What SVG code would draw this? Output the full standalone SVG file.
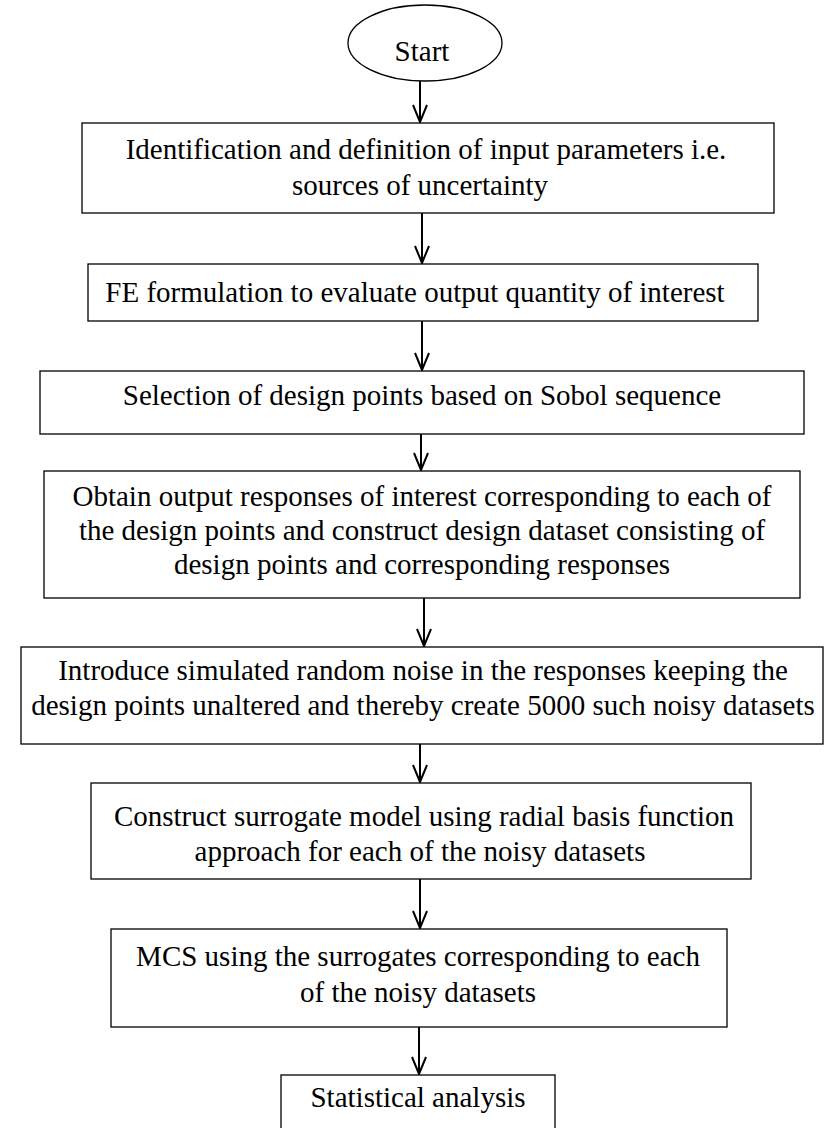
<svg xmlns="http://www.w3.org/2000/svg" width="824" height="1128" viewBox="0 0 824 1128">
<style>
.box{fill:#fff;stroke:#000;stroke-width:1.3}
.t{font-family:"Liberation Serif","Times New Roman",serif;font-size:29px;fill:#000;text-anchor:middle}
.c{stroke:#000;stroke-width:2;fill:none}
</style>
<defs>
<marker id="ah" markerWidth="20" markerHeight="16" refX="18" refY="8" orient="auto" markerUnits="userSpaceOnUse" viewBox="0 0 20 16">
<polyline points="1,1 18,8 1,15" fill="none" stroke="#000" stroke-width="2"/>
</marker>
</defs>
<rect width="824" height="1128" fill="#fff"/>
<g id="connectors">
<line class="c" x1="420" y1="81" x2="420" y2="122" marker-end="url(#ah)"/>
<line class="c" x1="422" y1="213" x2="422" y2="263" marker-end="url(#ah)"/>
<line class="c" x1="422" y1="321" x2="422" y2="370" marker-end="url(#ah)"/>
<line class="c" x1="421" y1="434" x2="421" y2="470" marker-end="url(#ah)"/>
<line class="c" x1="424" y1="598" x2="424" y2="646" marker-end="url(#ah)"/>
<line class="c" x1="420" y1="744" x2="420" y2="782" marker-end="url(#ah)"/>
<line class="c" x1="420" y1="879" x2="420" y2="928" marker-end="url(#ah)"/>
<line class="c" x1="419" y1="1027" x2="419" y2="1074" marker-end="url(#ah)"/>
</g>
<g id="start">
<ellipse class="box" cx="425" cy="43" rx="77" ry="38"/>
<text class="t" x="422" y="61">Start</text>
</g>
<g id="n1">
<rect class="box" x="82" y="123" width="692" height="90"/>
<text class="t" x="426" y="159">Identification and definition of input parameters i.e.</text>
<text class="t" x="420" y="195">sources of uncertainty</text>
</g>
<g id="n2">
<rect class="box" x="88" y="264" width="670" height="57"/>
<text class="t" x="415" y="302">FE formulation to evaluate output quantity of interest</text>
</g>
<g id="n3">
<rect class="box" x="40" y="371" width="764" height="63"/>
<text class="t" x="422" y="405">Selection of design points based on Sobol sequence</text>
</g>
<g id="n4">
<rect class="box" x="44" y="471" width="756" height="127"/>
<text class="t" x="422" y="506">Obtain output responses of interest corresponding to each of</text>
<text class="t" x="422" y="540">the design points and construct design dataset consisting of</text>
<text class="t" x="422" y="574">design points and corresponding responses</text>
</g>
<g id="n5">
<rect class="box" x="21" y="647" width="802" height="97"/>
<text class="t" x="423" y="680">Introduce simulated random noise in the responses keeping the</text>
<text class="t" x="423" y="715">design points unaltered and thereby create 5000 such noisy datasets</text>
</g>
<g id="n6">
<rect class="box" x="91" y="783" width="660" height="96"/>
<text class="t" x="424" y="826">Construct surrogate model using radial basis function</text>
<text class="t" x="420" y="861">approach for each of the noisy datasets</text>
</g>
<g id="n7">
<rect class="box" x="111" y="929" width="616" height="98"/>
<text class="t" x="418" y="966">MCS using the surrogates corresponding to each</text>
<text class="t" x="418" y="1002">of the noisy datasets</text>
</g>
<g id="n8">
<rect class="box" x="281" y="1075" width="274" height="60"/>
<text class="t" x="418" y="1107">Statistical analysis</text>
</g>
</svg>
